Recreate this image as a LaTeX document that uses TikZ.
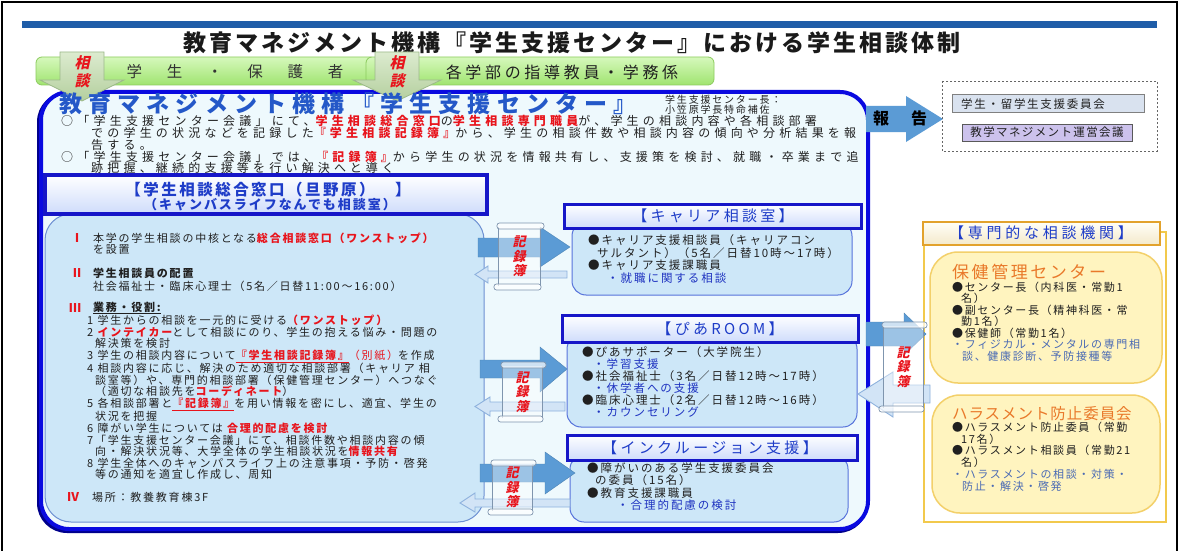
\documentclass[tikz,border=0pt]{standalone}
\usepackage{fontspec}
\setmainfont{Noto Sans CJK JP}
\newfontfamily\jpsl[FakeSlant=0.22]{Noto Sans CJK JP}
\usetikzlibrary{shadings}
\definecolor{red1}{HTML}{E8141C}
\definecolor{barblue}{HTML}{1F5DA8}
\definecolor{titlec}{HTML}{1A1A1A}
\definecolor{headblue}{HTML}{2458C8}
\definecolor{bigblue}{HTML}{0A0AE0}
\definecolor{bigshadow}{HTML}{00008C}
\definecolor{bigfill}{HTML}{EEF9FD}
\definecolor{panelfill}{HTML}{CDE7F8}
\definecolor{panelline}{HTML}{6D90D2}
\definecolor{subline}{HTML}{1616C8}
\definecolor{arrowblue}{HTML}{5B9BD5}
\definecolor{lightfill}{HTML}{D2E4F6}
\definecolor{lightline}{HTML}{8DB1DD}
\definecolor{scrollc}{HTML}{7F95AE}
\definecolor{txtblue}{HTML}{1E32C0}
\definecolor{grayblue}{HTML}{4A6AB4}
\definecolor{headtxt}{HTML}{1E3CC8}
\definecolor{orange1}{HTML}{E9792A}
\definecolor{yfill}{HTML}{FFF4BF}
\definecolor{yline}{HTML}{F3D06A}
\definecolor{gold}{HTML}{E2A22C}
\definecolor{frameY}{HTML}{F2C94C}
\definecolor{gfilltop}{HTML}{D6F8BC}
\definecolor{gfillbot}{HTML}{A0E470}
\definecolor{gline}{HTML}{8CCB5E}
\definecolor{sfilltop}{HTML}{DCEBCF}
\definecolor{sfillbot}{HTML}{B4CF9E}
\definecolor{sline}{HTML}{9CB98A}
\definecolor{boxafill}{HTML}{D9E2EF}
\definecolor{boxbfill}{HTML}{CCC2EC}
\definecolor{bodytxt}{HTML}{202020}
\def\curLS{0}
\newcommand\fs[3]{\fontsize{#1}{#2}\selectfont\addfontfeatures{LetterSpace=#3}\def\curLS{#3}}
\newcommand\boldls{\bfseries\edef\tmpls{\noexpand\addfontfeatures{LetterSpace=\curLS}}\tmpls}
\newcommand\R[1]{{\color{red1}\boldls #1}}
\newcommand\B[1]{{\boldls #1}}
\newcommand\scrollbox[5]{%
  \fill[white, fill opacity=.4] (#2,#3+4) rectangle (#4,#5-4);
  \draw[scrollc, line width=.7] (#2,#3+4) -- (#2,#5-4) (#4,#3+4) -- (#4,#5-4);
  \draw[scrollc, line width=.7, fill=white, fill opacity=.7, rounded corners=2.5] (#2-1,#3) rectangle (#4+4,#3+6);
  \draw[scrollc, line width=.7, fill=white, fill opacity=.7, rounded corners=2.5] (#2-4,#5-6) rectangle (#4+1,#5);
  \node[kiroku] (#1) at ({(#2+#4)/2},{(#3+#5)/2}) {記\\録\\簿};
}
\begin{document}
\begin{tikzpicture}[x=1pt,y=-1pt,
  txt/.style={inner sep=0, text=bodytxt},
  kiroku/.style={font=\jpsl\bfseries\fontsize{13}{14.5}\selectfont, text=red1, align=center, inner sep=0},
  soudantxt/.style={font=\jpsl\bfseries\fontsize{15}{16}\selectfont, text=red1, inner sep=0},
  greenbox/.style={rounded corners=6, draw=gline, line width=.8, top color=gfilltop, bottom color=gfillbot},
  soudan/.style={draw=sline, line width=.8, top color=sfilltop, bottom color=sfillbot},
  bigbox/.style={rounded corners=28, draw=bigblue, line width=4, fill=bigfill},
  panel/.style={rounded corners=26, draw=panelline, line width=1, fill=panelfill},
  subhead/.style={draw=subline, line width=3, top color=white, bottom color=panelfill!85!blue!60!white},
  subbody/.style={rounded corners=14, draw=panelline!80!blue, line width=1, fill=panelfill},
  headtext/.style={inner sep=0, text=headtxt, font=\fs{15}{17}{22}},
  body/.style={inner sep=0, text=bodytxt, align=left, anchor=west},
  bluearrow/.style={fill=arrowblue, draw=arrowblue!85!black, line width=.4},
  lightarrow/.style={fill=lightfill, draw=lightline, line width=.9},
  yellowbox/.style={rounded corners=28, fill=yfill, draw=yline, line width=1.5},
  romannum/.style={inner sep=0, text=red1, font=\bfseries\fontsize{12}{13}\selectfont, anchor=west}
]
\useasboundingbox (0,0) rectangle (1179,551);
\fill[white] (0,0) rectangle (1179,551);
\draw[black, line width=1.5] (2,551) -- (2,2) -- (1177,2) -- (1177,551);
\fill[barblue] (22,21) rectangle (1157,28);
\node[inner sep=0, text=titlec, font=\bfseries\fs{23}{26}{13}] (title) at (572,43) {教育マネジメント機構『学生支援センター』における学生相談体制};

% green bar
\draw[greenbox] (36,57) rectangle (376,85);
\draw[greenbox] (366,57) rectangle (714,85);
\node[inner sep=0, text=black!80, font=\fs{15.5}{17}{30}] (gs) at (235,72) {学　生　・　保　護　者};
\node[inner sep=0, text=bodytxt, font=\fs{16}{18}{23}] (gf) at (562,72) {各学部の指導教員・学務係};

% big box (with shadow on left/bottom)
\draw[rounded corners=28, draw=bigshadow, line width=4] (39,94) rectangle (866,531);
\draw[bigbox] (41,92) rectangle (868,529);

% soudan arrows
\draw[soudan] (60,52) -- (104,52) -- (104,80) -- (124,80) -- (82,101) -- (40,80) -- (60,80) -- cycle;
\node[soudantxt] (s1a) at (82,63) {相};
\node[soudantxt] (s1b) at (82,81) {談};
\draw[soudan] (375,52) -- (419,52) -- (419,80) -- (441,80) -- (397,101) -- (353,80) -- (375,80) -- cycle;
\node[soudantxt] (s2a) at (397,63) {相};
\node[soudantxt] (s2b) at (397,81) {談};

% heading
\node[inner sep=0, text=headblue, font=\bfseries\fs{23}{27}{27}] (head) at (348,104) {教育マネジメント機構『学生支援センター』};
\node[txt, anchor=west, font=\fs{10}{11}{18}] (chief1) at (665,100) {学生支援センター長：};
\node[txt, anchor=west, font=\fs{10}{11}{18}] (chief2) at (665,110) {小笠原学長特命補佐};
\node[body, font=\fs{12}{11.3}{35}] (para) at (61,144.5) {%
○「学生支援センター会議」にて、\R{学生相談総合窓口}の\R{学生相談専門職員}が、学生の相談内容や各相談部署\\
\hspace*{30pt}での学生の状況などを記録した\R{『学生相談記録簿』}から、学生の相談件数や相談内容の傾向や分析結果を報\\
\hspace*{30pt}告する。\\
○「学生支援センター会議」では、\R{『記録簿』}から学生の状況を情報共有し、支援策を検討、就職・卒業まで追\\
\hspace*{30pt}跡把握、継続的支援等を行い解決へと導く};

% report arrow
\fill[arrowblue] (866,106) -- (906,106) -- (906,96) -- (943,119) -- (906,142) -- (906,132) -- (866,132) -- cycle;
\node[inner sep=0, text=black, font=\bfseries\fontsize{16}{18}\selectfont] (report) at (900,118) {報\hspace{22pt}告};
\draw[gray!80!black, line width=.8, dash pattern=on 2pt off 2pt] (942,81) rectangle (1157,151);
\draw[fill=boxafill, draw=gray, line width=1] (952,95) rectangle (1144,113);
\node[txt, font=\fs{11.5}{13}{15}] (comA) at (1033,104) {学生・留学生支援委員会};
\draw[fill=boxbfill, draw=gray!70!black, line width=1] (962,124) rectangle (1132,141);
\node[txt, font=\fs{11.5}{13}{12}] (comB) at (1047,132.5) {教学マネジメント運営会議};

% left panel
\draw[panel] (45,214) rectangle (484,522);
\draw[subhead, line width=3.5] (45,175) rectangle (487,214);
\node[inner sep=0, text=headtxt, font=\bfseries\fs{15.5}{17}{16}] (lh1) at (268,190) {【学生相談総合窓口（旦野原）　】};
\node[inner sep=0, text=headtxt, font=\bfseries\fs{13}{15}{15}] (lh2) at (270,205) {（キャンバスライフなんでも相談室）};

\node[romannum] (r1) at (71,238) {Ⅰ};
\node[body, font=\fs{11}{11}{16}] (i1) at (93,243.5) {本学の学生相談の中核となる\R{総合相談窓口（ワンストップ）}\\を設置};
\node[romannum] (r2) at (71,273) {Ⅱ};
\node[body, font=\fs{11}{13}{16}] (i2) at (93,279.5) {\B{学生相談員の配置}\\社会福祉士・臨床心理士（5名／日替11:00～16:00）};
\node[romannum] (r3) at (69,308) {Ⅲ};
\node[body, font=\bfseries\fs{11}{13}{16}] (i3) at (93,308) {\underline{業務・役割:}};
\node[body, font=\fs{11}{11.6}{16}] (items) at (87,397.4) {%
1 学生からの相談を一元的に受ける\R{（ワンストップ）}\\
2 \R{インテイカー}として相談にのり、学生の抱える悩み・問題の\\
\hspace*{8pt}解決策を検討\\
3 学生の相談内容について\R{\underline{『学生相談記録簿』}}{\color{red1}（別紙）}を作成\\
4 相談内容に応じ、解決のため適切な相談部署（キャリア 相\\
\hspace*{8pt}談室等）や、専門的相談部署（保健管理センター）へつなぐ\\
\hspace*{8pt}（適切な相談先を\R{コーディネート}）\\
5 各相談部署と\R{\underline{『記録簿』}}を用い情報を密にし、適宜、学生の\\
\hspace*{8pt}状況を把握\\
6 障がい学生については \R{合理的配慮を検討}\\
7「学生支援センター会議」にて、相談件数や相談内容の傾\\
\hspace*{8pt}向・解決状況等、大学全体の学生相談状況を\R{情報共有}\\
8 学生全体へのキャンパスライフ上の注意事項・予防・啓発\\
\hspace*{8pt}等の通知を適宜し作成し、周知};
\node[romannum] (r4) at (67,497) {Ⅳ};
\node[body, font=\fs{11}{13}{16}] (i4) at (92,497) {場所：教養教育棟3F};

% career
\draw[subbody] (572,222) rectangle (852,295);
\draw[subhead] (564,204) rectangle (861,228);
\node[headtext] (careerh) at (713,216) {【キャリア相談室】};
\node[body, font=\fs{11.5}{12.67}{17}] (careerb) at (588,259) {%
●キャリア支援相談員（キャリアコン\\
\hspace*{9pt}サルタント）（5名／日替10時～17時）\\
●キャリア支援課職員\\
\hspace*{19pt}{\color{txtblue}・就職に関する相談}};

% pia room
\draw[subbody] (567,335) rectangle (857,427);
\draw[subhead] (562,315) rectangle (858,342);
\node[headtext] (piah) at (720,329) {【ぴあROOM】};
\node[body, font=\fs{11.5}{12}{17}] (piab) at (582,382) {%
●ぴあサポーター（大学院生）\\
\hspace*{11pt}{\color{txtblue}・学習支援}\\
●社会福祉士（3名／日替12時～17時）\\
\hspace*{11pt}{\color{txtblue}・休学者への支援}\\
●臨床心理士（2名／日替12時～16時）\\
\hspace*{11pt}{\color{txtblue}・カウンセリング}};

% inclusion
\draw[subbody] (570,455) rectangle (848,522);
\draw[subhead] (567,435) rectangle (857,460);
\node[headtext] (inclh) at (710,448) {【インクルージョン支援】};
\node[body, font=\fs{11.5}{12.33}{17}] (inclb) at (587,486.5) {%
●障がいのある学生支援委員会\\
\hspace*{8pt}の委員（15名）\\
●教育支援課職員\\
\hspace*{30pt}{\color{txtblue}・合理的配慮の検討}};

% arrows left
\draw[bluearrow] (478,238) -- (540,238) -- (540,227) -- (570,247) -- (540,267) -- (540,257) -- (478,257) -- cycle;
\draw[lightarrow] (567,271) -- (488,271) -- (488,266) -- (475,274.5) -- (488,283) -- (488,278) -- (567,278) -- cycle;
\scrollbox{scA}{498}{223}{540}{290}
\draw[bluearrow] (480,360) -- (540,360) -- (540,347) -- (567,369) -- (540,392) -- (540,378) -- (480,378) -- cycle;
\draw[lightarrow] (565,402) -- (490,402) -- (490,397) -- (475,406.5) -- (490,416) -- (490,411) -- (565,411) -- cycle;
\scrollbox{scB}{502}{362}{542}{422}
\draw[bluearrow] (480,464) -- (545,464) -- (545,452) -- (575,473) -- (545,494) -- (545,482) -- (480,482) -- cycle;
\draw[lightarrow] (570,499) -- (475,499) -- (475,493) -- (460,503) -- (475,512) -- (475,507) -- (570,507) -- cycle;
\scrollbox{scC}{492}{460}{532}{515}

% specialized
\draw[frameY, line width=1.2, fill=white] (924,232) rectangle (1166,522);
\draw[gold, line width=2.5, top color=yellow!3!white, bottom color=yellow!30!brown!25!white] (923,222) rectangle (1160,245);
\node[inner sep=0, text=headtxt, font=\fs{15}{17}{25}] (spech) at (1041,233) {【専門的な相談機関】};
\draw[yellowbox] (930,252) rectangle (1162,383);
\node[inner sep=0, anchor=west, text=orange1, font=\fs{17}{19}{15}] (hokent) at (952,272) {保健管理センター};
\node[body, font=\fs{11}{11.5}{15}] (hokenb) at (952,321.5) {%
●センター長（内科医・常勤1\\
\hspace*{9pt}名）\\
●副センター長（精神科医・常\\
\hspace*{9pt}勤1名）\\
●保健師（常勤1名）\\
{\color{grayblue}・フィジカル・メンタルの専門相}\\
\hspace*{10pt}{\color{grayblue}談、健康診断、予防接種等}};
\draw[yellowbox] (932,395) rectangle (1160,513);
\node[inner sep=0, anchor=west, text=orange1, font=\fs{15.5}{17}{6}] (harat) at (952,414) {ハラスメント防止委員会};
\node[body, font=\fs{11}{11.8}{15}] (harab) at (952,456.5) {%
●ハラスメント防止委員（常勤\\
\hspace*{9pt}17名）\\
●ハラスメント相談員（常勤21\\
\hspace*{9pt}名）\\
{\color{grayblue}・ハラスメントの相談・対策・}\\
\hspace*{10pt}{\color{grayblue}防止・解決・啓発}};

% right arrows
\draw[bluearrow] (866,322) -- (904,322) -- (904,313) -- (926,334) -- (904,355) -- (904,346) -- (866,346) -- cycle;
\draw[lightarrow] (930,385) -- (893,385) -- (893,372) -- (858,394) -- (893,417) -- (893,403) -- (930,403) -- cycle;
\scrollbox{scD}{883}{322}{923}{412}
\end{tikzpicture}
\end{document}
